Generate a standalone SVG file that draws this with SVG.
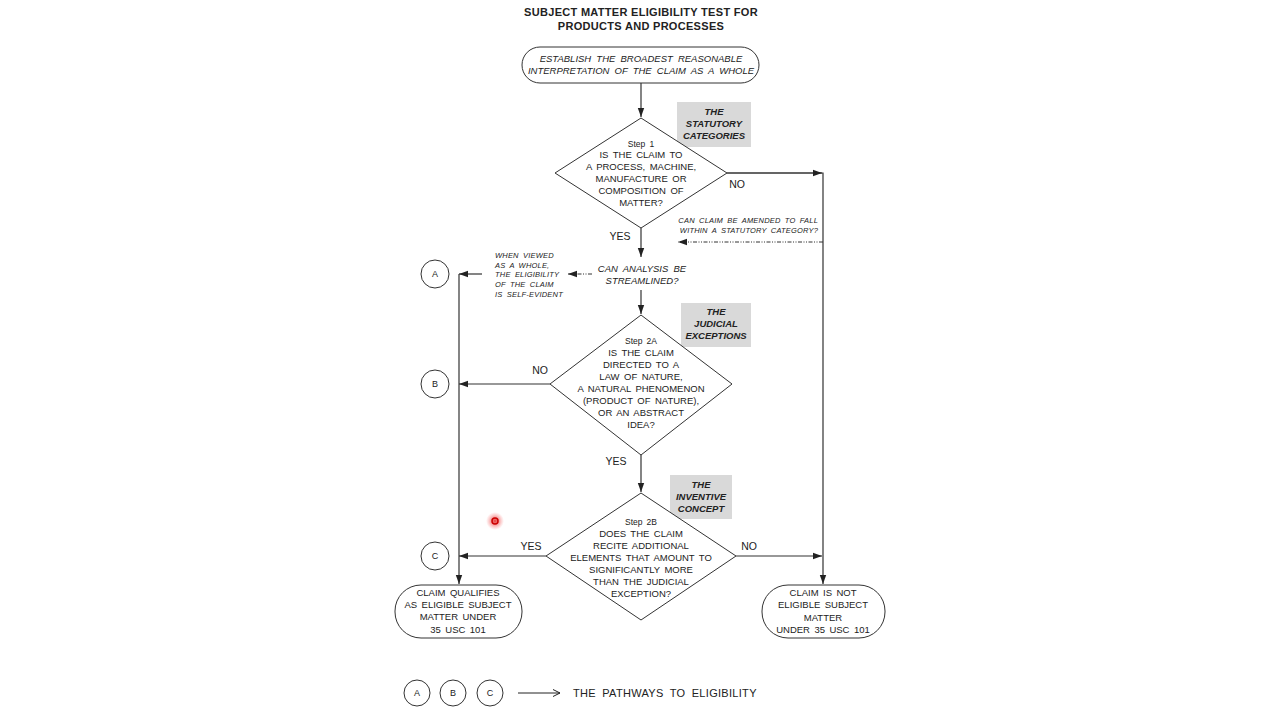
<svg xmlns="http://www.w3.org/2000/svg" width="1280" height="720" viewBox="0 0 1280 720">
<defs>
<marker id="ah" markerWidth="10" markerHeight="8" refX="9" refY="4" orient="auto" markerUnits="userSpaceOnUse">
<path d="M0,0.8 L9,4 L0,7.2 Z" fill="#222"/>
</marker>
<marker id="ao" markerWidth="10" markerHeight="10" refX="9" refY="5" orient="auto" markerUnits="userSpaceOnUse">
<path d="M2,1.5 L9,5 L2,8.5" fill="none" stroke="#222" stroke-width="1"/>
</marker>
<radialGradient id="glow">
<stop offset="0" stop-color="#e02020" stop-opacity="0.9"/>
<stop offset="0.5" stop-color="#f06060" stop-opacity="0.5"/>
<stop offset="1" stop-color="#ff8080" stop-opacity="0"/>
</radialGradient>
</defs>
<style>
text{font-family:"Liberation Sans",Arial,sans-serif;fill:#222;text-anchor:middle}
.t{font-size:11px;font-weight:bold;letter-spacing:0.3px}
.n{font-size:9.5px;word-spacing:1.8px}
.i{font-size:9.5px;font-style:italic;word-spacing:2.5px}
.s{font-size:7.5px;font-style:italic;letter-spacing:0.2px;word-spacing:2px}
.cat{font-size:9.5px;font-weight:bold;font-style:italic}
.lab{font-size:10.5px}
.ltr{font-size:9px}
.shape{fill:#fff;stroke:#333;stroke-width:1}
.gray{fill:#d9d9d9}
.ln{fill:none;stroke:#333;stroke-width:1.2}
.dash{fill:none;stroke:#333;stroke-width:1;stroke-dasharray:4,1.5,1,1.5,1,1.5}
</style>
<rect width="1280" height="720" fill="#fff"/>

<g id="title">
<text class="t" x="641" y="16">SUBJECT MATTER ELIGIBILITY TEST FOR</text>
<text class="t" x="641" y="30">PRODUCTS AND PROCESSES</text>
</g>

<g id="connectors">
<line class="ln" x1="641" y1="83" x2="641" y2="117" marker-end="url(#ah)"/>
<polyline class="ln" points="727,173 823,173 823,584" marker-end="url(#ah)"/>
<line class="ln" x1="727" y1="173" x2="822" y2="173" marker-end="url(#ah)"/>
<line class="dash" x1="823" y1="242" x2="678" y2="242" marker-end="url(#ah)"/>
<line class="ln" x1="641" y1="228" x2="641" y2="257" marker-end="url(#ah)"/>
<line class="dash" x1="592" y1="274" x2="568" y2="274" marker-end="url(#ah)"/>
<line class="ln" x1="482" y1="274" x2="459" y2="274" marker-end="url(#ah)"/>
<line class="ln" x1="459" y1="274" x2="459" y2="584" marker-end="url(#ah)"/>
<line class="ln" x1="641" y1="290" x2="641" y2="314" marker-end="url(#ah)"/>
<line class="ln" x1="550" y1="384" x2="459" y2="384" marker-end="url(#ah)"/>
<line class="ln" x1="641" y1="455" x2="641" y2="492" marker-end="url(#ah)"/>
<line class="ln" x1="546" y1="556" x2="459" y2="556" marker-end="url(#ah)"/>
<line class="ln" x1="736" y1="556" x2="822" y2="556" marker-end="url(#ah)"/>
<text class="lab" x="737" y="188">NO</text>
<text class="lab" x="620" y="240">YES</text>
<text class="lab" x="540" y="374">NO</text>
<text class="lab" x="616" y="465">YES</text>
<text class="lab" x="531" y="550">YES</text>
<text class="lab" x="749" y="550">NO</text>
<text class="s" x="818" y="223" style="text-anchor:end">CAN CLAIM BE AMENDED TO FALL</text>
<text class="s" x="818" y="233" style="text-anchor:end">WITHIN A STATUTORY CATEGORY?</text>
<text class="s" x="495" y="258" style="text-anchor:start">WHEN VIEWED</text>
<text class="s" x="495" y="268" style="text-anchor:start">AS A WHOLE,</text>
<text class="s" x="495" y="277" style="text-anchor:start">THE ELIGIBILITY</text>
<text class="s" x="495" y="287" style="text-anchor:start">OF THE CLAIM</text>
<text class="s" x="495" y="297" style="text-anchor:start">IS SELF-EVIDENT</text>
</g>

<g id="start">
<rect class="shape" x="522" y="47" width="237" height="36" rx="18"/>
<text class="i" x="641" y="62">ESTABLISH THE BROADEST REASONABLE</text>
<text class="i" x="641" y="74">INTERPRETATION OF THE CLAIM AS A WHOLE</text>
</g>

<g id="cat1">
<rect class="gray" x="677" y="102" width="74" height="45"/>
<text class="cat" x="714" y="115">THE</text>
<text class="cat" x="714" y="127">STATUTORY</text>
<text class="cat" x="714" y="139">CATEGORIES</text>
</g>

<g id="step1">
<polygon class="shape" points="641,118 727,173 641,228 555,173"/>
<text class="n" x="641" y="147" style="font-size:8.5px">Step 1</text>
<text class="n" x="641" y="158">IS THE CLAIM TO</text>
<text class="n" x="641" y="170">A PROCESS, MACHINE,</text>
<text class="n" x="641" y="182">MANUFACTURE OR</text>
<text class="n" x="641" y="194">COMPOSITION OF</text>
<text class="n" x="641" y="206">MATTER?</text>
</g>

<g id="streamline">
<text class="i" x="642" y="272">CAN ANALYSIS BE</text>
<text class="i" x="642" y="284">STREAMLINED?</text>
</g>

<g id="cat2">
<rect class="gray" x="681" y="303" width="70" height="44"/>
<text class="cat" x="716" y="315">THE</text>
<text class="cat" x="716" y="327">JUDICIAL</text>
<text class="cat" x="716" y="339">EXCEPTIONS</text>
</g>

<g id="step2a">
<polygon class="shape" points="641,315 732,384 641,455 550,384"/>
<text class="n" x="641" y="344" style="font-size:8.5px">Step 2A</text>
<text class="n" x="641" y="356">IS THE CLAIM</text>
<text class="n" x="641" y="368">DIRECTED TO A</text>
<text class="n" x="641" y="380">LAW OF NATURE,</text>
<text class="n" x="641" y="392">A NATURAL PHENOMENON</text>
<text class="n" x="641" y="404">(PRODUCT OF NATURE),</text>
<text class="n" x="641" y="416">OR AN ABSTRACT</text>
<text class="n" x="641" y="428">IDEA?</text>
</g>

<g id="cat3">
<rect class="gray" x="670" y="475" width="62" height="44"/>
<text class="cat" x="701" y="488">THE</text>
<text class="cat" x="701" y="500">INVENTIVE</text>
<text class="cat" x="701" y="512">CONCEPT</text>
</g>

<g id="step2b">
<polygon class="shape" points="641,493 736,556 641,620 546,556"/>
<text class="n" x="641" y="525" style="font-size:8.5px">Step 2B</text>
<text class="n" x="641" y="537">DOES THE CLAIM</text>
<text class="n" x="641" y="549">RECITE ADDITIONAL</text>
<text class="n" x="641" y="561">ELEMENTS THAT AMOUNT TO</text>
<text class="n" x="641" y="573">SIGNIFICANTLY MORE</text>
<text class="n" x="641" y="585">THAN THE JUDICIAL</text>
<text class="n" x="641" y="597">EXCEPTION?</text>
</g>

<g id="circleA">
<circle class="shape" cx="435" cy="274" r="14"/>
<text class="ltr" x="435" y="277">A</text>
</g>
<g id="circleB">
<circle class="shape" cx="435" cy="384" r="14"/>
<text class="ltr" x="435" y="387">B</text>
</g>
<g id="circleC">
<circle class="shape" cx="435" cy="556" r="14"/>
<text class="ltr" x="435" y="559">C</text>
</g>

<g id="eligible">
<rect class="shape" x="395" y="585" width="127" height="53" rx="26"/>
<text class="n" x="458" y="596">CLAIM QUALIFIES</text>
<text class="n" x="458" y="608">AS ELIGIBLE SUBJECT</text>
<text class="n" x="458" y="620">MATTER UNDER</text>
<text class="n" x="458" y="633">35 USC 101</text>
</g>

<g id="noteligible">
<rect class="shape" x="762" y="585" width="123" height="53" rx="26"/>
<text class="n" x="823" y="596">CLAIM IS NOT</text>
<text class="n" x="823" y="608">ELIGIBLE SUBJECT</text>
<text class="n" x="823" y="621">MATTER</text>
<text class="n" x="823" y="633">UNDER 35 USC 101</text>
</g>

<g id="legend">
<circle class="shape" cx="417" cy="693" r="13"/>
<text class="ltr" x="417" y="696">A</text>
<circle class="shape" cx="453" cy="693" r="13"/>
<text class="ltr" x="453" y="696">B</text>
<circle class="shape" cx="490" cy="693" r="13"/>
<text class="ltr" x="490" y="696">C</text>
<line x1="518" y1="693" x2="560" y2="693" stroke="#222" stroke-width="1" marker-end="url(#ao)"/>
<text x="573" y="697" style="font-size:11px;text-anchor:start;letter-spacing:0.3px;word-spacing:3px">THE PATHWAYS TO ELIGIBILITY</text>
</g>

<g id="cursor">
<circle cx="495" cy="521" r="9" fill="url(#glow)"/>
<circle cx="495" cy="521" r="3" fill="none" stroke="#c00" stroke-width="1.5"/>
</g>
</svg>
